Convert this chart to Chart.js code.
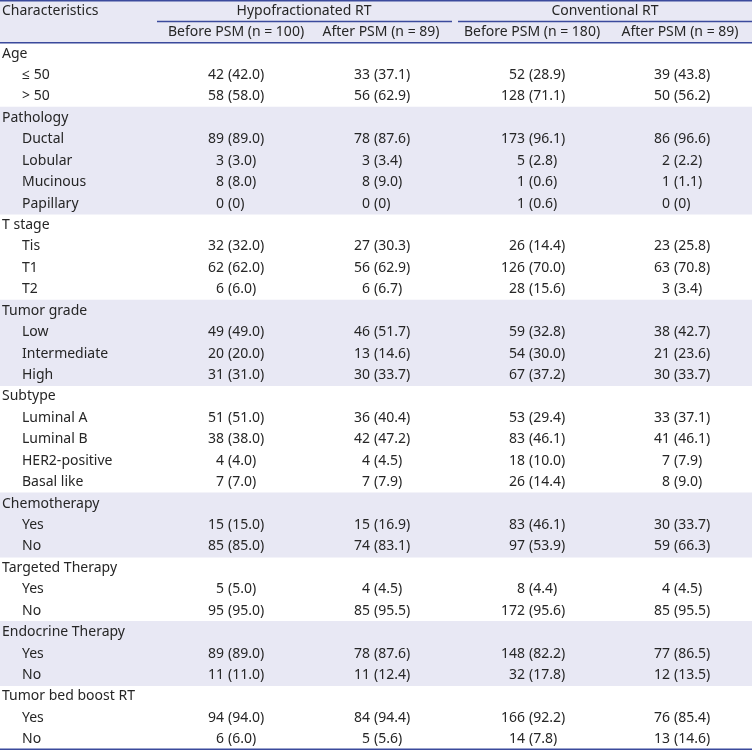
<!DOCTYPE html>
<html>
<head>
<meta charset="utf-8">
<script src="https://cdn.jsdelivr.net/npm/chart.js@4.4.1/dist/chart.umd.min.js"></script>
<style>
  html, body { margin: 0; padding: 0; background: #fff; }
  #wrap { width: 752px; height: 751px; }
</style>
</head>
<body>
<div id="wrap"><canvas id="tableChart"></canvas></div>
<script>
// table data
var groupHeads = ['Hypofractionated RT', 'Conventional RT'];
var colHeads = ['Before PSM (n = 100)', 'After PSM (n = 89)', 'Before PSM (n = 180)', 'After PSM (n = 89)'];

var rowLabels = [
  'Age', '≤ 50', '> 50',
  'Pathology', 'Ductal', 'Lobular', 'Mucinous', 'Papillary',
  'T stage', 'Tis', 'T1', 'T2',
  'Tumor grade', 'Low', 'Intermediate', 'High',
  'Subtype', 'Luminal A', 'Luminal B', 'HER2-positive', 'Basal like',
  'Chemotherapy', 'Yes', 'No',
  'Targeted Therapy', 'Yes', 'No',
  'Endocrine Therapy', 'Yes', 'No',
  'Tumor bed boost RT', 'Yes', 'No'
];

var hypoBefore = [
  null, '42 (42.0)', '58 (58.0)',
  null, '89 (89.0)', '3 (3.0)', '8 (8.0)', '0 (0)',
  null, '32 (32.0)', '62 (62.0)', '6 (6.0)',
  null, '49 (49.0)', '20 (20.0)', '31 (31.0)',
  null, '51 (51.0)', '38 (38.0)', '4 (4.0)', '7 (7.0)',
  null, '15 (15.0)', '85 (85.0)',
  null, '5 (5.0)', '95 (95.0)',
  null, '89 (89.0)', '11 (11.0)',
  null, '94 (94.0)', '6 (6.0)'
];
var hypoAfter = [
  null, '33 (37.1)', '56 (62.9)',
  null, '78 (87.6)', '3 (3.4)', '8 (9.0)', '0 (0)',
  null, '27 (30.3)', '56 (62.9)', '6 (6.7)',
  null, '46 (51.7)', '13 (14.6)', '30 (33.7)',
  null, '36 (40.4)', '42 (47.2)', '4 (4.5)', '7 (7.9)',
  null, '15 (16.9)', '74 (83.1)',
  null, '4 (4.5)', '85 (95.5)',
  null, '78 (87.6)', '11 (12.4)',
  null, '84 (94.4)', '5 (5.6)'
];
var convBefore = [
  null, '52 (28.9)', '128 (71.1)',
  null, '173 (96.1)', '5 (2.8)', '1 (0.6)', '1 (0.6)',
  null, '26 (14.4)', '126 (70.0)', '28 (15.6)',
  null, '59 (32.8)', '54 (30.0)', '67 (37.2)',
  null, '53 (29.4)', '83 (46.1)', '18 (10.0)', '26 (14.4)',
  null, '83 (46.1)', '97 (53.9)',
  null, '8 (4.4)', '172 (95.6)',
  null, '148 (82.2)', '32 (17.8)',
  null, '166 (92.2)', '14 (7.8)'
];
var convAfter = [
  null, '39 (43.8)', '50 (56.2)',
  null, '86 (96.6)', '2 (2.2)', '1 (1.1)', '0 (0)',
  null, '23 (25.8)', '63 (70.8)', '3 (3.4)',
  null, '38 (42.7)', '21 (23.6)', '30 (33.7)',
  null, '33 (37.1)', '41 (46.1)', '7 (7.9)', '8 (9.0)',
  null, '30 (33.7)', '59 (66.3)',
  null, '4 (4.5)', '85 (95.5)',
  null, '77 (86.5)', '12 (13.5)',
  null, '76 (85.4)', '13 (14.6)'
];
var series = [hypoBefore, hypoAfter, convBefore, convAfter];

// layout (x in table units = px of the 752 wide table)
var FONT = '14px "Noto Sans", "Open Sans", sans-serif';
var TEXT = '#262626';
var LINE = '#3b4a9c';
var SHADE = '#e8e8f4';
var parenX = [228, 374, 529, 674];
var colHeadX = [236, 381, 532, 680];
var groupHeadX = [304, 605];
var groupLine = [[157, 452], [458, 752]];

// categories: 2 header rows + body rows
var cats = ['h1', 'h2'].concat(rowLabels.map(function (l, i) { return 'r' + i; }));

// shading: header rows + every other group
var shadeData = [[0, 752], [0, 752]];
var grp = -1;
rowLabels.forEach(function (l, i) {
  if (hypoBefore[i] === null) grp++;
  shadeData.push(grp % 2 === 1 ? [0, 752] : null);
});

var tablePlugin = {
  id: 'tableText',
  afterDatasetsDraw: function (chart) {
    var ctx = chart.ctx;
    var xs = chart.scales.x, ys = chart.scales.y;
    var rowH = ys.getPixelForValue(1) - ys.getPixelForValue(0);
    function X(v) { return xs.getPixelForValue(v); }
    ctx.save();
    ctx.font = FONT;
    ctx.fillStyle = TEXT;
    ctx.textBaseline = 'middle';

    // header
    var y0 = ys.getPixelForValue(0), y1 = ys.getPixelForValue(1);
    ctx.textAlign = 'left';
    ctx.fillText('Characteristics', X(2), y0);
    ctx.textAlign = 'center';
    groupHeads.forEach(function (t, i) { ctx.fillText(t, X(groupHeadX[i]), y0); });
    colHeads.forEach(function (t, i) { ctx.fillText(t, X(colHeadX[i]), y1); });

    // body
    rowLabels.forEach(function (l, i) {
      var y = ys.getPixelForValue(i + 2);
      var isGroup = hypoBefore[i] === null;
      ctx.textAlign = 'left';
      ctx.fillText(l, X(isGroup ? 2 : 22), y);
      if (isGroup) return;
      series.forEach(function (s, c) {
        var v = s[i];
        var k = v.indexOf(' (');
        ctx.textAlign = 'right';
        ctx.fillText(v.slice(0, k), X(parenX[c] - 4), y);
        ctx.textAlign = 'left';
        ctx.fillText(v.slice(k + 1), X(parenX[c]), y);
      });
    });

    // rules
    ctx.strokeStyle = LINE;
    ctx.lineWidth = 1.5;
    var top = y0 - rowH / 2, mid = y0 + rowH / 2, hb = y1 + rowH / 2;
    var bottom = ys.getPixelForValue(cats.length - 1) + rowH / 2;
    ctx.beginPath();
    ctx.moveTo(X(0), top + 0.75); ctx.lineTo(X(752), top + 0.75);
    groupLine.forEach(function (g) { ctx.moveTo(X(g[0]), mid); ctx.lineTo(X(g[1]), mid); });
    ctx.moveTo(X(0), hb); ctx.lineTo(X(752), hb);
    ctx.moveTo(X(0), bottom - 0.75); ctx.lineTo(X(752), bottom - 0.75);
    ctx.stroke();
    ctx.restore();
  }
};

var ctx = document.getElementById('tableChart').getContext('2d');
new Chart(ctx, {
  type: 'bar',
  data: {
    labels: cats,
    datasets: [{
      data: shadeData,
      backgroundColor: SHADE,
      borderWidth: 0,
      barPercentage: 1,
      categoryPercentage: 1
    }]
  },
  options: {
    indexAxis: 'y',
    responsive: true,
    maintainAspectRatio: false,
    animation: false,
    layout: { padding: { top: 0, bottom: 1, left: 0, right: 0 } },
    plugins: { legend: { display: false }, tooltip: { enabled: false } },
    scales: {
      x: { type: 'linear', min: 0, max: 752, display: false },
      y: { display: false }
    }
  },
  plugins: [tablePlugin]
});
</script>
</body>
</html>
